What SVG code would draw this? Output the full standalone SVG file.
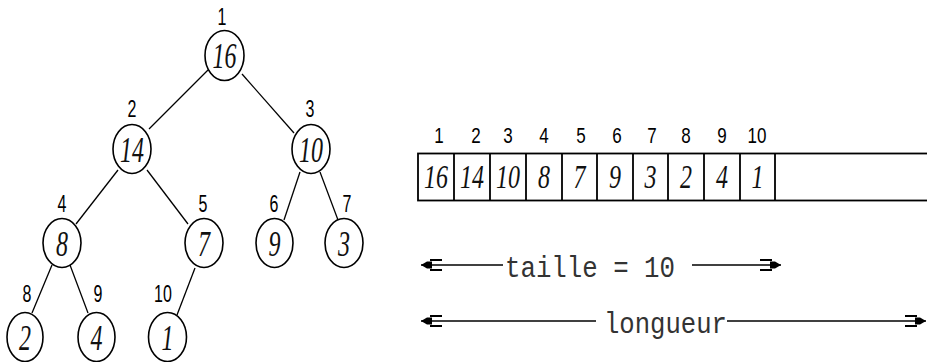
<svg xmlns="http://www.w3.org/2000/svg" width="927" height="362" viewBox="0 0 927 362">
<style>
.node ellipse{fill:#fff;stroke:#000;stroke-width:1.6}
.val{font-family:"Liberation Serif",serif;font-style:italic;font-size:24px;text-anchor:middle;fill:#111}
.idx{font-family:"Liberation Sans",Arial,sans-serif;font-size:16px;text-anchor:middle;fill:#000}
.aidx{font-size:17px}
.mono{font-family:"Liberation Mono","DejaVu Sans Mono",monospace;font-size:25px;fill:#333}
#connectors line{stroke:#000;stroke-width:1.3}
.arr{stroke:#000;stroke-width:1.6;fill:none}
.cell{fill:#fff;stroke:#000;stroke-width:1.8}
</style>
<defs>
<marker id="head" markerUnits="userSpaceOnUse" markerWidth="24" markerHeight="16" refX="23" refY="8" orient="auto-start-reverse" viewBox="0 0 24 16">
<path d="M12,4.5 L17,4.5 L23,8 L17,11.5 L12,11.5 Z" fill="#000"/>
<path d="M2,3 H14 M2,13 H14" stroke="#000" stroke-width="1.8"/>
</marker>
</defs>

<g id="connectors">
<line x1="208" y1="70" x2="149" y2="129"/>
<line x1="242" y1="74" x2="294" y2="133"/>
<line x1="118" y1="170" x2="76" y2="224"/>
<line x1="147" y1="170" x2="188" y2="224"/>
<line x1="300" y1="172" x2="284" y2="220"/>
<line x1="320" y1="172" x2="338" y2="220"/>
<line x1="52" y1="265" x2="32" y2="313"/>
<line x1="70" y1="265" x2="88" y2="313"/>
<line x1="195" y1="268" x2="177" y2="315"/>
</g>

<g id="n1" class="node"><ellipse cx="224.5" cy="55.5" rx="19.5" ry="25"/><text class="val" transform="translate(224.5,68) scale(1,1.45)">16</text><text class="idx" transform="translate(222,25) scale(1,1.45)">1</text></g>
<g id="n2" class="node"><ellipse cx="132" cy="149" rx="19" ry="24.5"/><text class="val" transform="translate(132,161.5) scale(1,1.45)">14</text><text class="idx" transform="translate(132,117) scale(1,1.45)">2</text></g>
<g id="n3" class="node"><ellipse cx="311" cy="149" rx="19" ry="24.5"/><text class="val" transform="translate(311,161.5) scale(1,1.45)">10</text><text class="idx" transform="translate(310,117) scale(1,1.45)">3</text></g>
<g id="n4" class="node"><ellipse cx="62" cy="243" rx="19" ry="24.5"/><text class="val" transform="translate(62,255.5) scale(1,1.45)">8</text><text class="idx" transform="translate(62,212) scale(1,1.45)">4</text></g>
<g id="n5" class="node"><ellipse cx="204" cy="243" rx="19" ry="24.5"/><text class="val" transform="translate(204,255.5) scale(1,1.45)">7</text><text class="idx" transform="translate(203,212) scale(1,1.45)">5</text></g>
<g id="n6" class="node"><ellipse cx="274.5" cy="243" rx="18.5" ry="24.5"/><text class="val" transform="translate(274.5,255.5) scale(1,1.45)">9</text><text class="idx" transform="translate(274,212) scale(1,1.45)">6</text></g>
<g id="n7" class="node"><ellipse cx="344" cy="243" rx="19" ry="24.5"/><text class="val" transform="translate(344,255.5) scale(1,1.45)">3</text><text class="idx" transform="translate(347,212) scale(1,1.45)">7</text></g>
<g id="n8" class="node"><ellipse cx="25" cy="337" rx="18" ry="24.5"/><text class="val" transform="translate(25,350) scale(1,1.45)">2</text><text class="idx" transform="translate(27,302) scale(1,1.45)">8</text></g>
<g id="n9" class="node"><ellipse cx="96.5" cy="337" rx="18.5" ry="24.5"/><text class="val" transform="translate(96.5,350) scale(1,1.45)">4</text><text class="idx" transform="translate(98,302) scale(1,1.45)">9</text></g>
<g id="n10" class="node"><ellipse cx="167.5" cy="337" rx="19" ry="24.5"/><text class="val" transform="translate(167.5,350) scale(1,1.45)">1</text><text class="idx" transform="translate(163,302) scale(1,1.45)">10</text></g>

<g id="array">
<rect class="cell" x="418" y="153.5" width="520" height="47"/>
<path d="M454,153.5V200.5 M490,153.5V200.5 M526,153.5V200.5 M562,153.5V200.5 M597,153.5V200.5 M633,153.5V200.5 M668,153.5V200.5 M704,153.5V200.5 M740,153.5V200.5 M775,153.5V200.5" stroke="#000" stroke-width="1.8"/>
<g>
<text class="val" transform="translate(436,188) scale(1,1.42)">16</text>
<text class="val" transform="translate(472,188) scale(1,1.42)">14</text>
<text class="val" transform="translate(508,188) scale(1,1.42)">10</text>
<text class="val" transform="translate(544,188) scale(1,1.42)">8</text>
<text class="val" transform="translate(579.5,188) scale(1,1.42)">7</text>
<text class="val" transform="translate(615,188) scale(1,1.42)">9</text>
<text class="val" transform="translate(650.5,188) scale(1,1.42)">3</text>
<text class="val" transform="translate(686,188) scale(1,1.42)">2</text>
<text class="val" transform="translate(722,188) scale(1,1.42)">4</text>
<text class="val" transform="translate(757.5,188) scale(1,1.42)">1</text>
</g>
<g>
<text class="idx aidx" transform="translate(439,143) scale(1,1.3)">1</text>
<text class="idx aidx" transform="translate(476,143) scale(1,1.3)">2</text>
<text class="idx aidx" transform="translate(508,143) scale(1,1.3)">3</text>
<text class="idx aidx" transform="translate(544,143) scale(1,1.3)">4</text>
<text class="idx aidx" transform="translate(581,143) scale(1,1.3)">5</text>
<text class="idx aidx" transform="translate(617,143) scale(1,1.3)">6</text>
<text class="idx aidx" transform="translate(652,143) scale(1,1.3)">7</text>
<text class="idx aidx" transform="translate(686,143) scale(1,1.3)">8</text>
<text class="idx aidx" transform="translate(722,143) scale(1,1.3)">9</text>
<text class="idx aidx" transform="translate(757,143) scale(1,1.3)">10</text>
</g>
</g>

<g id="taille">
<line class="arr" x1="503" y1="265" x2="421" y2="265" marker-end="url(#head)"/>
<text class="mono" transform="translate(505,277) scale(1,1.15)" textLength="170" lengthAdjust="spacingAndGlyphs">taille = 10</text>
<line class="arr" x1="692" y1="265" x2="781" y2="265" marker-end="url(#head)"/>
</g>
<g id="longueur">
<line class="arr" x1="596" y1="321" x2="421" y2="321" marker-end="url(#head)"/>
<text class="mono" transform="translate(604,333) scale(1,1.15)" textLength="123" lengthAdjust="spacingAndGlyphs">longueur</text>
<line class="arr" x1="727" y1="321" x2="926" y2="321" marker-end="url(#head)"/>
</g>
</svg>
